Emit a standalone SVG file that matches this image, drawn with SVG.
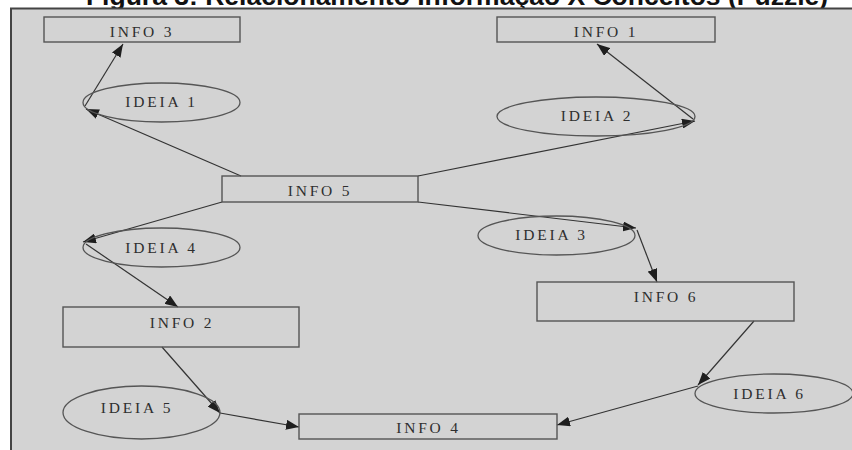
<svg xmlns="http://www.w3.org/2000/svg" width="852" height="450" viewBox="0 0 852 450">
<defs>
<style>
.title{font-family:"Liberation Sans",Arial,sans-serif;font-weight:bold;font-size:26.5px;fill:#111;text-anchor:middle}
.box{fill:none;stroke:#555;stroke-width:1.4}
.ell{fill:none;stroke:#555;stroke-width:1.3}
.lbl{font-family:"Liberation Serif","Times New Roman",serif;font-size:15.5px;fill:#2e2e2e;letter-spacing:2.8px;text-anchor:middle}
.edge{stroke:#333;stroke-width:1.2;fill:none;marker-end:url(#arr)}
</style>
<marker id="arr" markerUnits="userSpaceOnUse" markerWidth="13" markerHeight="10" viewBox="0 0 13 10" refX="13" refY="5" orient="auto">
<path d="M0,0 L13,5 L0,10 Z" fill="#1e1e1e"/>
</marker>
</defs>
<rect x="0" y="0" width="852" height="450" fill="#ffffff"/>
<text class="title" x="457" y="4.5">Figura 3: Relacionamento Informação X Conceitos (Puzzle)</text>
<rect x="11" y="8" width="841" height="442" fill="#d3d3d3"/>
<path d="M11,450 L11,8.5 L852,8.5" fill="none" stroke="#444" stroke-width="2"/>

<g id="connectors">
<line class="edge" x1="85" y1="106" x2="123" y2="44"/>
<line class="edge" x1="241" y1="176" x2="86" y2="109"/>
<line class="edge" x1="418" y1="176" x2="695" y2="121"/>
<line class="edge" x1="693" y1="119" x2="597" y2="44"/>
<line class="edge" x1="418" y1="202" x2="636" y2="228"/>
<line class="edge" x1="637" y1="230" x2="657" y2="282"/>
<line class="edge" x1="222" y1="202" x2="83" y2="242"/>
<line class="edge" x1="86" y1="244" x2="178" y2="307"/>
<line class="edge" x1="162" y1="347" x2="220" y2="413"/>
<line class="edge" x1="220" y1="413" x2="299" y2="427"/>
<line class="edge" x1="754" y1="321" x2="698" y2="385"/>
<line class="edge" x1="698" y1="386" x2="557" y2="425"/>
</g>

<g id="info3"><rect class="box" x="44" y="17" width="196" height="25"/><text class="lbl" x="142" y="36.5">INFO 3</text></g>
<g id="info1"><rect class="box" x="497" y="17" width="218" height="25"/><text class="lbl" x="606" y="36.5">INFO 1</text></g>
<g id="ideia1"><ellipse class="ell" cx="161.5" cy="102.5" rx="78.5" ry="19.5"/><text class="lbl" x="161.5" y="106.5">IDEIA 1</text></g>
<g id="ideia2"><ellipse class="ell" cx="596" cy="116.5" rx="99" ry="19.5"/><text class="lbl" x="597" y="120.5">IDEIA 2</text></g>
<g id="info5"><rect class="box" x="222" y="176" width="196" height="26"/><text class="lbl" x="320" y="196">INFO 5</text></g>
<g id="ideia3"><ellipse class="ell" cx="556.5" cy="235.5" rx="78.5" ry="19.5"/><text class="lbl" x="551.5" y="240">IDEIA 3</text></g>
<g id="ideia4"><ellipse class="ell" cx="161.5" cy="247.5" rx="78.5" ry="19.5"/><text class="lbl" x="161.5" y="252.5">IDEIA 4</text></g>
<g id="info6"><rect class="box" x="537" y="282" width="257" height="39"/><text class="lbl" x="666" y="301.5">INFO 6</text></g>
<g id="info2"><rect class="box" x="63" y="307" width="236" height="40"/><text class="lbl" x="182" y="327.5">INFO 2</text></g>
<g id="ideia5"><ellipse class="ell" cx="141.5" cy="412.5" rx="78.5" ry="26.5"/><text class="lbl" x="137" y="413">IDEIA 5</text></g>
<g id="ideia6"><ellipse class="ell" cx="774" cy="393.5" rx="79" ry="19.5"/><text class="lbl" x="769.5" y="399">IDEIA 6</text></g>
<g id="info4"><rect class="box" x="299" y="414" width="258" height="25"/><text class="lbl" x="428.5" y="432.5">INFO 4</text></g>
</svg>
